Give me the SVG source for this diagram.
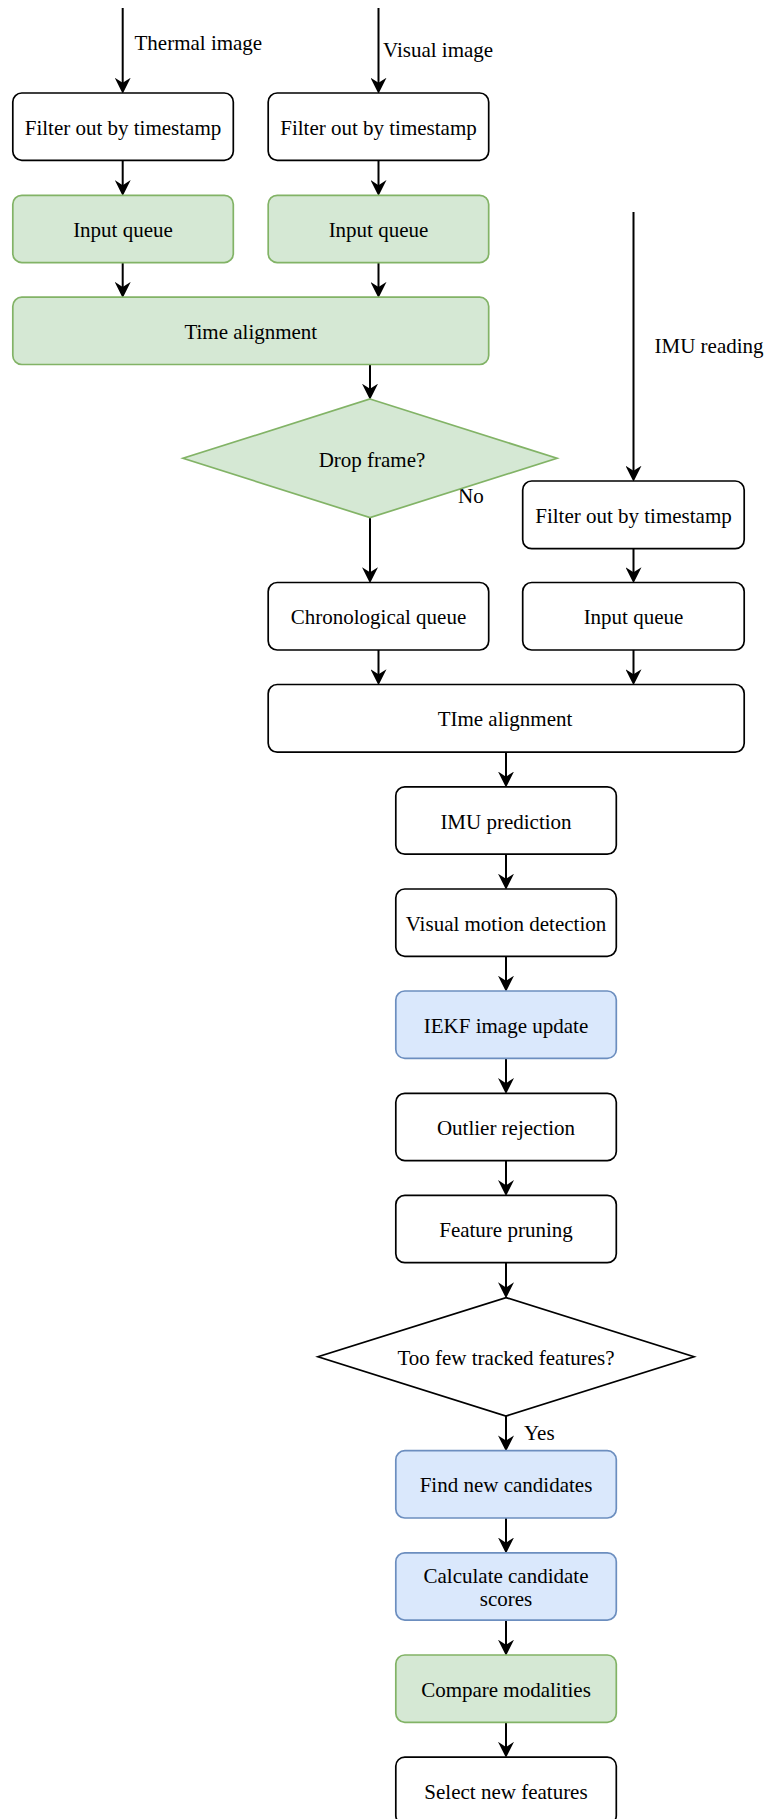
<svg xmlns="http://www.w3.org/2000/svg" width="766" height="1819" viewBox="0 0 766 1819">
<style>
text{font-family:"Liberation Serif","Times New Roman",serif;font-size:21px;fill:#000}
.c{text-anchor:middle}
.w{fill:#fff;stroke:#000;stroke-width:1.7}
.g{fill:#d5e8d4;stroke:#82b366;stroke-width:1.7}
.b{fill:#dae8fc;stroke:#6c8ebf;stroke-width:1.7}
.e{stroke:#000;stroke-width:2;fill:none;marker-end:url(#a)}
</style>
<defs>
<marker id="a" markerUnits="userSpaceOnUse" markerWidth="16" markerHeight="16" viewBox="0 0 14 14" refX="9" refY="7" orient="auto">
<path d="M0,0 L14,7 L0,14 L4.5,7 Z" fill="#000"/>
</marker>
</defs>
<rect width="766" height="1819" fill="#fff"/>
<g id="connectors">
<line class="e" x1="122.7" y1="8" x2="122.7" y2="88"/>
<line class="e" x1="378.5" y1="8" x2="378.5" y2="88"/>
<line class="e" x1="122.7" y1="160.3" x2="122.7" y2="190.3"/>
<line class="e" x1="378.5" y1="160.3" x2="378.5" y2="190.3"/>
<line class="e" x1="122.7" y1="262.5" x2="122.7" y2="292.2"/>
<line class="e" x1="378.5" y1="262.5" x2="378.5" y2="292.2"/>
<line class="e" x1="370" y1="364.6" x2="370" y2="394"/>
<line class="e" x1="370" y1="517.6" x2="370" y2="577.5"/>
<line class="e" x1="633.5" y1="212" x2="633.5" y2="476"/>
<line class="e" x1="633.5" y1="548.7" x2="633.5" y2="577.5"/>
<line class="e" x1="378.5" y1="650" x2="378.5" y2="679.5"/>
<line class="e" x1="633.5" y1="650" x2="633.5" y2="679.5"/>
<line class="e" x1="506" y1="752.2" x2="506" y2="781.8"/>
<line class="e" x1="506" y1="854.2" x2="506" y2="884"/>
<line class="e" x1="506" y1="956.3" x2="506" y2="986"/>
<line class="e" x1="506" y1="1058.4" x2="506" y2="1088.3"/>
<line class="e" x1="506" y1="1160.6" x2="506" y2="1190.4"/>
<line class="e" x1="506" y1="1262.7" x2="506" y2="1292.6"/>
<line class="e" x1="506" y1="1416" x2="506" y2="1445.7"/>
<line class="e" x1="506" y1="1518" x2="506" y2="1547.8"/>
<line class="e" x1="506" y1="1620.1" x2="506" y2="1650"/>
<line class="e" x1="506" y1="1722.3" x2="506" y2="1752.1"/>
<text x="134.5" y="49.5">Thermal image</text>
<text x="383" y="57">Visual image</text>
<text x="654.5" y="353">IMU reading</text>
<text x="458" y="503.3">No</text>
<text x="524" y="1440">Yes</text>
</g>
<g id="filter-thermal"><rect class="w" x="12.8" y="93" width="220.5" height="67.3" rx="9"/><text class="c" x="123" y="134.6">Filter out by timestamp</text></g>
<g id="filter-visual"><rect class="w" x="268.2" y="93" width="220.5" height="67.3" rx="9"/><text class="c" x="378.5" y="134.6">Filter out by timestamp</text></g>
<g id="queue-thermal"><rect class="g" x="12.8" y="195.3" width="220.5" height="67.3" rx="9"/><text class="c" x="123" y="237">Input queue</text></g>
<g id="queue-visual"><rect class="g" x="268.2" y="195.3" width="220.5" height="67.3" rx="9"/><text class="c" x="378.5" y="237">Input queue</text></g>
<g id="time-alignment-1"><rect class="g" x="12.8" y="297.2" width="475.9" height="67.3" rx="9"/><text class="c" x="250.8" y="339">Time alignment</text></g>
<g id="drop-frame"><polygon class="g" points="370,399 557,458.3 370,517.6 183,458.3"/><text class="c" x="372" y="466.5">Drop frame?</text></g>
<g id="filter-imu"><rect class="w" x="522.7" y="481" width="221.5" height="67.7" rx="9"/><text class="c" x="633.5" y="522.8">Filter out by timestamp</text></g>
<g id="chrono-queue"><rect class="w" x="268.2" y="582.5" width="220.5" height="67.5" rx="9"/><text class="c" x="378.5" y="624.3">Chronological queue</text></g>
<g id="queue-imu"><rect class="w" x="522.7" y="582.5" width="221.5" height="67.5" rx="9"/><text class="c" x="633.5" y="624.3">Input queue</text></g>
<g id="time-alignment-2"><rect class="w" x="268.2" y="684.5" width="476" height="67.7" rx="9"/><text class="c" x="505" y="726.3">TIme alignment</text></g>
<g id="imu-prediction"><rect class="w" x="395.8" y="786.8" width="220.5" height="67.4" rx="9"/><text class="c" x="506" y="828.5">IMU prediction</text></g>
<g id="visual-motion"><rect class="w" x="395.8" y="889" width="220.5" height="67.3" rx="9"/><text class="c" x="506" y="930.6">Visual motion detection</text></g>
<g id="iekf-update"><rect class="b" x="395.8" y="991" width="220.5" height="67.4" rx="9"/><text class="c" x="506" y="1032.7">IEKF image update</text></g>
<g id="outlier-rejection"><rect class="w" x="395.8" y="1093.3" width="220.5" height="67.3" rx="9"/><text class="c" x="506" y="1135">Outlier rejection</text></g>
<g id="feature-pruning"><rect class="w" x="395.8" y="1195.4" width="220.5" height="67.3" rx="9"/><text class="c" x="506" y="1237">Feature pruning</text></g>
<g id="too-few"><polygon class="w" points="506,1297.6 694,1356.8 506,1416 318,1356.8"/><text class="c" x="506" y="1365">Too few tracked features?</text></g>
<g id="find-candidates"><rect class="b" x="395.8" y="1450.7" width="220.5" height="67.3" rx="9"/><text class="c" x="506" y="1492.4">Find new candidates</text></g>
<g id="calc-scores"><rect class="b" x="395.8" y="1552.8" width="220.5" height="67.3" rx="9"/><text class="c" x="506" y="1583">Calculate candidate</text><text class="c" x="506" y="1606">scores</text></g>
<g id="compare-modalities"><rect class="g" x="395.8" y="1655" width="220.5" height="67.3" rx="9"/><text class="c" x="506" y="1696.7">Compare modalities</text></g>
<g id="select-features"><rect class="w" x="395.8" y="1757.1" width="220.5" height="67.3" rx="9"/><text class="c" x="506" y="1798.8">Select new features</text></g>
</svg>
